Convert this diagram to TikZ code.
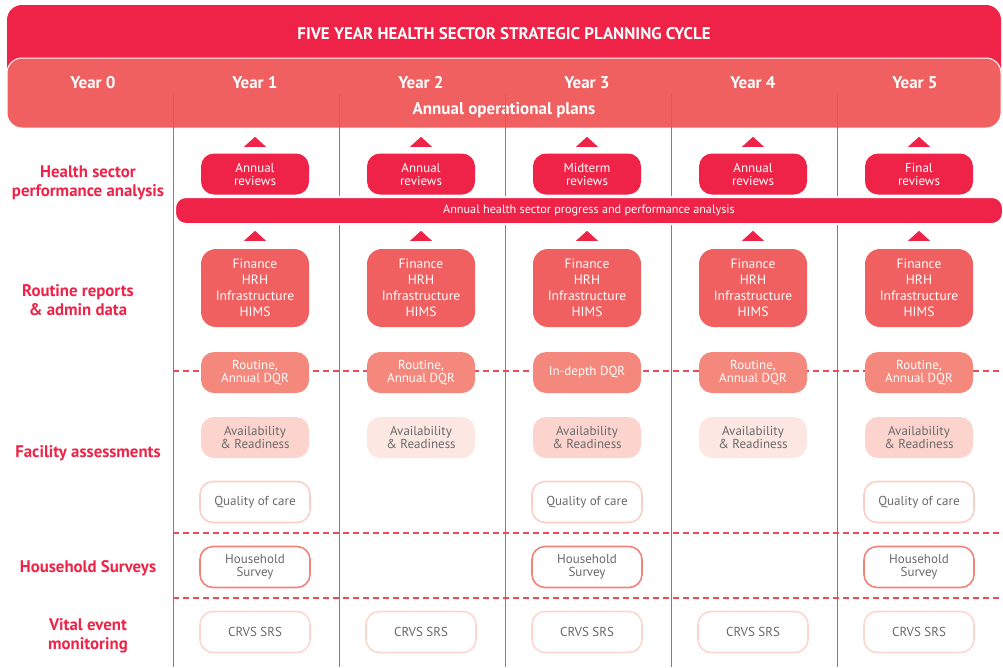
\documentclass[tikz,border=0pt]{standalone}
\usepackage{fontspec}
\setmainfont{PT Sans}
\usetikzlibrary{positioning,calc}
\definecolor{karmin}{HTML}{EE2347}
\definecolor{lazac}{HTML}{F06060}
\definecolor{dqrszin}{HTML}{F5887C}
\definecolor{avlsotet}{HTML}{FCD4CD}
\definecolor{avlvilag}{HTML}{FDE7E2}
\definecolor{qocszel}{HTML}{FBCFC6}
\definecolor{hhszel}{HTML}{F2837A}
\definecolor{crvsszel}{HTML}{FDD6CE}
\definecolor{szaggszin}{HTML}{EF4B55}
\definecolor{szurke}{HTML}{6A6A6A}
\tikzset{
  kartya/.style={rounded corners=13pt,minimum width=108pt,minimum height=41pt,
    inner sep=0pt,align=center,font=\fontsize{13}{13}\selectfont},
  rev/.style={kartya,fill=karmin,text=white},
  fin/.style={kartya,fill=lazac,text=white,minimum height=78pt,rounded corners=15pt,
    font=\fontsize{13.5}{16}\selectfont},
  dqr/.style={kartya,fill=dqrszin,text=white},
  avl/.style={kartya,text=szurke},
  qoc/.style={kartya,fill=white,draw=qocszel,line width=1.6pt,text=szurke,minimum width=110pt},
  hh/.style={kartya,fill=white,draw=hhszel,line width=1.6pt,text=szurke,minimum width=110pt},
  crvs/.style={kartya,fill=white,draw=crvsszel,line width=1.6pt,text=szurke,minimum width=110pt},
  cim/.style={text=karmin,align=center,font=\bfseries\fontsize{16.8}{19}\selectfont},
  ev/.style={text=white,font=\bfseries\fontsize{17}{18}\selectfont},
  szagg/.style={draw=szaggszin,line width=2pt,dash pattern=on 6pt off 4pt},
  hegy/.style={fill=karmin},
}

\begin{document}
\begin{tikzpicture}[x=1pt,y=-1pt]
  \useasboundingbox (0,0) rectangle (1003,667);
  % fejlec
  \fill[karmin,rounded corners=15pt] (7,5) rectangle (1001,110);
  \filldraw[fill=lazac,draw=white,line width=1pt,rounded corners=15pt] (7,58) rectangle (1001,128);
  \node[text=white,font=\bfseries\fontsize{16.9}{18}\selectfont] (title) at (504,33.5)
    {FIVE YEAR HEALTH SECTOR STRATEGIC PLANNING CYCLE};
  \node[ev] (y0) at (93,83) {Year 0};
  \foreach \i/\x in {1/255,2/421,3/587,4/753,5/915}
    \node[ev] (y\i) at (\x,83) {Year \i};
  \node[ev] (aop) at (504,110) {Annual operational plans};
  % oszlopvonalak es szaggatott vonalak
  \foreach \x in {173,339,505,671,837}
    \draw[szurke!85,line width=0.9pt] (\x,94) -- (\x,667);
  \foreach \y in {371,533,598}
    \draw[szagg] (173,\y) -- (1003,\y);
  % sor cimkek
  \node[cim] (l1) at (88,183) {Health sector\\performance analysis};
  \node[cim] (l2) at (78,300.5) {Routine reports\\\& admin data};
  \node[cim] (l3) at (88,453) {Facility assessments};
  \node[cim] (l4) at (88,568) {Household Surveys};
  \node[cim] (l5) at (88,636) {Vital event\\monitoring};
  % eves sav
  \node[fill=karmin,draw=white,line width=2pt,rounded corners=11pt,minimum width=828pt,
    minimum height=27pt,inner sep=0pt,text=white,font=\fontsize{12.2}{13}\selectfont]
    (bar) at (589,210.5) {Annual health sector progress and performance analysis};
  % dobozok
  \foreach \i/\x/\r in {1/255/Annual,2/421/Annual,3/587/Midterm,4/753/Annual,5/919/Final}{
    \node[rev] (rev\i) at (\x,174) {\r\\reviews};
    \node[fin] (fin\i) at (\x,288) {Finance\\HRH\\Infrastructure\\HIMS};
    \fill[hegy] ($(rev\i.north)+(-11,-6.5)$) -- ++(11,-10) -- ++(11,10) -- cycle;
    \fill[hegy] ($(fin\i.north)+(-11,-8)$) -- ++(11,-10) -- ++(11,10) -- cycle;
    \node[crvs] (crvs\i) at (\x,632) {CRVS SRS};
  }
  \foreach \i/\x in {1/255,2/421,4/753,5/919}
    \node[dqr] (dqr\i) at (\x,372.5) {Routine,\\Annual DQR};
  \node[dqr] (dqr3) at (587,372.5) {In-depth DQR};
  \foreach \i/\x/\c in {1/255/avlsotet,2/421/avlvilag,3/587/avlsotet,4/753/avlvilag,5/919/avlsotet}
    \node[avl,fill=\c] (avl\i) at (\x,437.5) {Availability\\\& Readiness};
  \foreach \i/\x in {1/255,3/587,5/919}{
    \node[qoc] (qoc\i) at (\x,502) {Quality of care};
    \node[hh] (hh\i) at (\x,567) {Household\\Survey};
  }
\end{tikzpicture}
\end{document}
